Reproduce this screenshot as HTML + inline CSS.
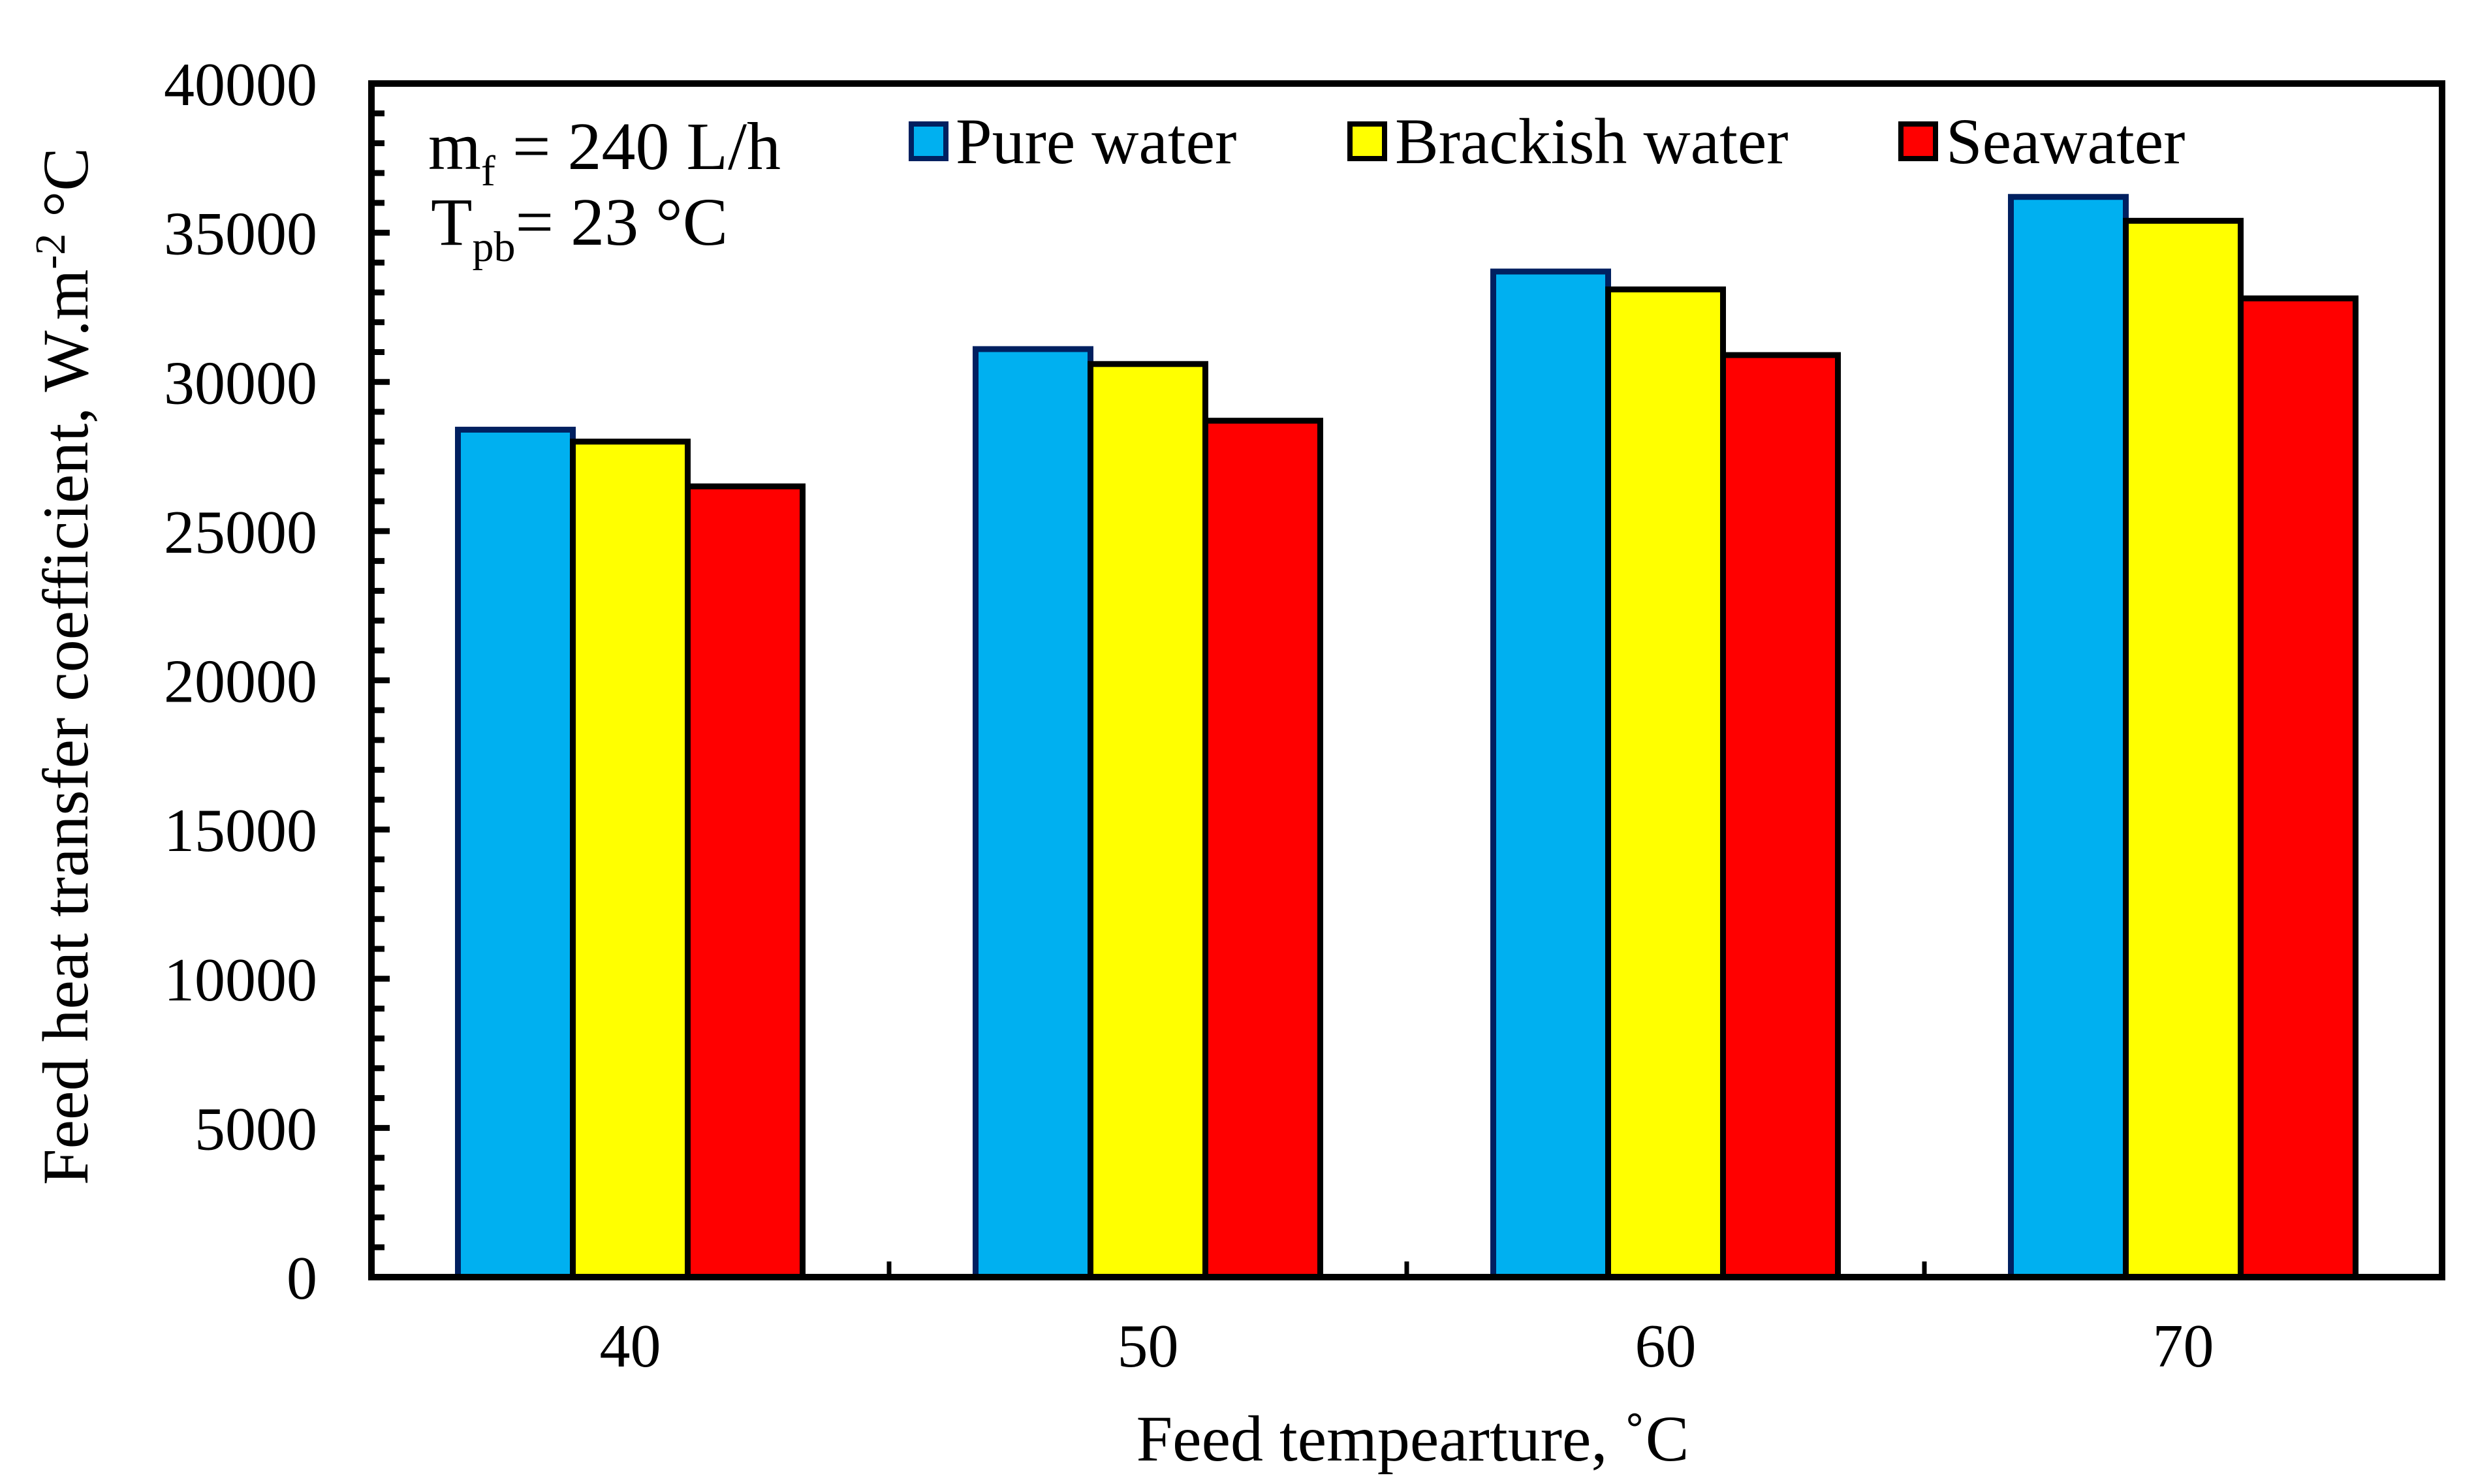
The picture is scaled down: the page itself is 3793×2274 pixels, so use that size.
<!DOCTYPE html>
<html><head><meta charset="utf-8"><style>
html,body{margin:0;padding:0;background:#fff;}
svg{display:block;font-family:"Liberation Serif",serif;}
</style></head><body>
<svg id="chart" width="3793" height="2274" viewBox="0 0 3793 2274" xmlns="http://www.w3.org/2000/svg">
<g id="bars"></g>
<g id="axes"></g>
<text x="134" y="1021" font-size="100" text-anchor="middle" transform="rotate(-90 134 1021)">Feed heat transfer coefficient, W.m<tspan dy="-35" font-size="66">-2</tspan><tspan dy="35"> °C</tspan></text>
<text x="2164" y="2238" font-size="100" text-anchor="middle">Feed tempearture, ˚C</text>
<text x="656" y="259" font-size="104">m<tspan dy="25" font-size="66">f</tspan><tspan dy="-25"> = 240 L/h</tspan></text>
<text x="660" y="375" font-size="104">T<tspan dy="25" font-size="66">pb</tspan><tspan dy="-25">= 23 °C</tspan></text>
<g>
<rect x="1396" y="190" width="53" height="53" fill="#00b0f0" stroke="#002060" stroke-width="8"/>
<text x="1464" y="250" font-size="100">Pure water</text>
<rect x="2068" y="190" width="53" height="53" fill="#ffff00" stroke="#000" stroke-width="8"/>
<text x="2137" y="250" font-size="100">Brackish water</text>
<rect x="2912" y="190" width="53" height="53" fill="#ff0000" stroke="#000" stroke-width="8"/>
<text x="2981" y="250" font-size="100">Seawater</text>
</g>
</svg>
<script>
const categories = ["40","50","60","70"];
const pureWater = [28400, 31100, 33700, 36200];
const brackishWater = [28000, 30600, 33100, 35400];
const seawater = [26500, 28700, 30900, 32800];
const yTicks = [0,5000,10000,15000,20000,25000,30000,35000,40000];

const NS = "http://www.w3.org/2000/svg";
const L = 569, R = 3741, T = 128, B = 1957, yMax = 40000;
const catW = (R - L) / categories.length;
const barW = 176;
function yScale(v){ return B - v / yMax * (B - T); }
function xCenter(i){ return L + catW * (i + 0.5); }
function mk(tag, attrs, parent){ const e = document.createElementNS(NS, tag); for (const k in attrs) e.setAttribute(k, attrs[k]); parent.appendChild(e); return e; }

const bars = document.getElementById("bars");
const series = [
  {vals: pureWater, fill: "#00b0f0", stroke: "#002060", name: "pure-water"},
  {vals: brackishWater, fill: "#ffff00", stroke: "#000", name: "brackish-water"},
  {vals: seawater, fill: "#ff0000", stroke: "#000", name: "seawater"}
];
categories.forEach((c, i) => {
  series.forEach((s, j) => {
    const x = xCenter(i) - 1.5 * barW + j * barW;
    const y = yScale(s.vals[i]);
    const r = mk("rect", {x: x, y: y, width: barW, height: B - y, fill: s.fill, stroke: s.stroke, "stroke-width": 9}, bars);
    
    
  });
});

const axes = document.getElementById("axes");
const frame = mk("rect", {x: L, y: T, width: R - L, height: B - T, fill: "none", stroke: "#000", "stroke-width": 10}, axes);


for (let v = 0; v <= yMax; v += 1000) {
  const y = yScale(v);
  const len = v % 5000 === 0 ? 28 : 20;
  const t = mk("line", {x1: L, x2: L + len, y1: y, y2: y, stroke: "#000", "stroke-width": 9}, axes);
  
  
}
yTicks.forEach(v => {
  const t = mk("text", {x: 486, y: yScale(v) + 33, "font-size": 94, "text-anchor": "end"}, axes);
  t.textContent = v;
  
  
});
for (let i = 1; i < categories.length; i++) {
  const x = L + catW * i;
  const t = mk("line", {x1: x, x2: x, y1: B, y2: B - 24, stroke: "#000", "stroke-width": 7}, axes);
  
  
}
categories.forEach((c, i) => {
  const t = mk("text", {x: xCenter(i), y: 2094, "font-size": 94, "text-anchor": "middle"}, axes);
  t.textContent = c;
  
  
});
</script>
</body></html>
